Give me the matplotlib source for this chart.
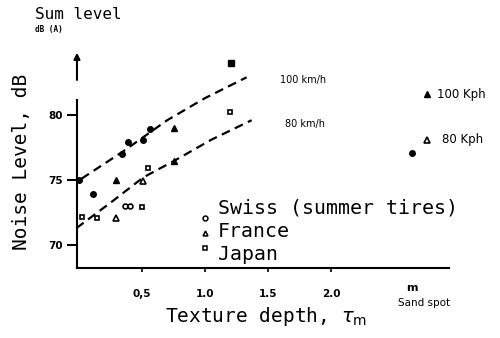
import matplotlib.pyplot as plt

# noise level (dB(A)) against texture depth tau_m (mm)
# circles = Swiss, triangles = France, squares = Japan
# filled = 100 km/h, open = 80 km/h
swiss_100_x = [0.0, 0.11, 0.34, 0.39, 0.51, 0.56]
swiss_100_y = [75.0, 73.9, 77.0, 77.9, 78.1, 78.9]
swiss_80_x = [0.365, 0.405]
swiss_80_y = [73.0, 73.0]
france_100_x = [0.29, 0.75, 0.75]
france_100_y = [75.0, 79.0, 76.5]
france_80_x = [0.29, 0.51]
france_80_y = [72.1, 74.9]
japan_100_x = [1.21]
japan_100_y = [84.0]
japan_80_x = [0.02, 0.14, 0.50, 0.55, 1.20]
japan_80_y = [72.15, 72.1, 72.9, 75.9, 80.2]

# sand spot measurements (plotted at "m" on the texture axis)
sand_swiss_x, sand_swiss_y = [2.64], [77.1]
sand_fr100_x, sand_fr100_y = [2.76], [81.6]
sand_fr80_x, sand_fr80_y = [2.76], [78.1]

# hand-drawn trend lines
trend_100_x = [0.02, 0.35, 0.70, 1.00, 1.33]
trend_100_y = [75.1, 77.2, 79.6, 81.3, 82.9]
trend_80_x = [-0.02, 0.27, 0.51, 0.76, 1.05, 1.37]
trend_80_y = [71.3, 73.4, 75.2, 76.5, 78.1, 79.6]

xticks = [0.5, 1.0, 1.5, 2.0]
xtick_labels = ["0,5", "1.0", "1.5", "2.0"]
yticks = [70, 75, 80]
countries = ["Swiss (summer tires)", "France", "Japan"]

mono = "DejaVu Sans Mono"

fig = plt.figure(figsize=(5, 3.38), dpi=100)
ax = fig.add_axes([0.14, 0.2071, 0.86, 0.7929])
ax.set_xlim(-0.0714, 3.341)
ax.set_ylim(68.23, 88.85)

for s in ["top", "right"]:
    ax.spines[s].set_visible(False)
ax.spines["left"].set_position(("data", -0.016))
ax.spines["left"].set_bounds(68.23, 81.15)
ax.spines["bottom"].set_bounds(-0.016, 2.94)
ax.spines["left"].set_linewidth(1.5)
ax.spines["bottom"].set_linewidth(1.5)

ax.set_xticks(xticks)
ax.set_xticklabels(xtick_labels, fontsize=7.5, fontweight="bold")
ax.set_yticks(yticks)
ax.set_yticklabels([str(v) for v in yticks], fontsize=7.5, fontweight="bold")
ax.tick_params(axis="x", length=3, width=1.2, pad=12)
ax.tick_params(axis="y", length=7, width=1.5, pad=3)

# arrow above the y axis
ax.annotate("", xy=(-0.016, 84.8), xytext=(-0.016, 82.7),
            arrowprops=dict(arrowstyle="-|>", lw=1.5, color="k",
                            mutation_scale=9, shrinkA=0, shrinkB=0),
            annotation_clip=False)

dash = (0, (4, 2.5))
ax.plot(trend_100_x, trend_100_y, color="k", lw=1.6, linestyle=dash)
ax.plot(trend_80_x, trend_80_y, color="k", lw=1.6, linestyle=dash)

mk = dict(color="k", linestyle="none", clip_on=False)
ax.plot(swiss_100_x, swiss_100_y, marker="o", ms=4, **mk)
ax.plot(swiss_80_x, swiss_80_y, marker="o", ms=3.5, mfc="white", mew=1.2, **mk)
ax.plot(france_100_x, france_100_y, marker="^", ms=4, **mk)
ax.plot(france_80_x, france_80_y, marker="^", ms=4, mfc="white", mew=1.2, **mk)
ax.plot(japan_100_x, japan_100_y, marker="s", ms=5, **mk)
ax.plot(japan_80_x, japan_80_y, marker="s", ms=3.5, mfc="white", mew=1.2, **mk)
ax.plot(sand_swiss_x, sand_swiss_y, marker="o", ms=4, **mk)
ax.plot(sand_fr100_x, sand_fr100_y, marker="^", ms=4, **mk)
ax.plot(sand_fr80_x, sand_fr80_y, marker="^", ms=4, mfc="white", mew=1.2, **mk)

# speed labels
ax.text(1.595, 82.69, "100 km/h", fontsize=7, va="center", ha="left")
ax.text(1.635, 79.31, "80 km/h", fontsize=7, va="center", ha="left")
ax.text(2.84, sand_fr100_y[0], "100 Kph", fontsize=8.5, va="center", ha="left")
ax.text(2.88, sand_fr80_y[0], "80 Kph", fontsize=8.5, va="center", ha="left")

# hand-made legend
for i, (name, m) in enumerate(zip(countries, ["o", "^", "s"])):
    ax.plot([1.0], [72.08 - 1.15 * i], marker=m, ms=3.5, mfc="white",
            mew=1.1, **mk)
    ax.text(1.103, 72.85 - 1.78 * i, name, fontsize=14.3, family=mono,
            va="center", ha="left")

# sand spot position on the x axis
ax.text(2.643, 66.69, "m", fontsize=8, fontweight="bold", ha="center", va="center")
ax.text(2.74, 65.5, "Sand spot", fontsize=7.5, ha="center", va="center")

fig.text(0.07, 0.956, "Sum level", fontsize=11.5, family=mono,
         ha="left", va="center")
fig.text(0.07, 0.914, "dB (A)", fontsize=5.5, family=mono, fontweight="bold",
         ha="left", va="center")
fig.text(0.044, 1 - 162 / 338, "Noise Level, dB", fontsize=14, family=mono,
         rotation=90, ha="center", va="center")
fig.text(0.532, 1 - 316 / 338, "Texture depth, $\\tau_\\mathrm{m}$", fontsize=14,
         family=mono, ha="center", va="center")

fig.savefig("out.png", dpi=100)
